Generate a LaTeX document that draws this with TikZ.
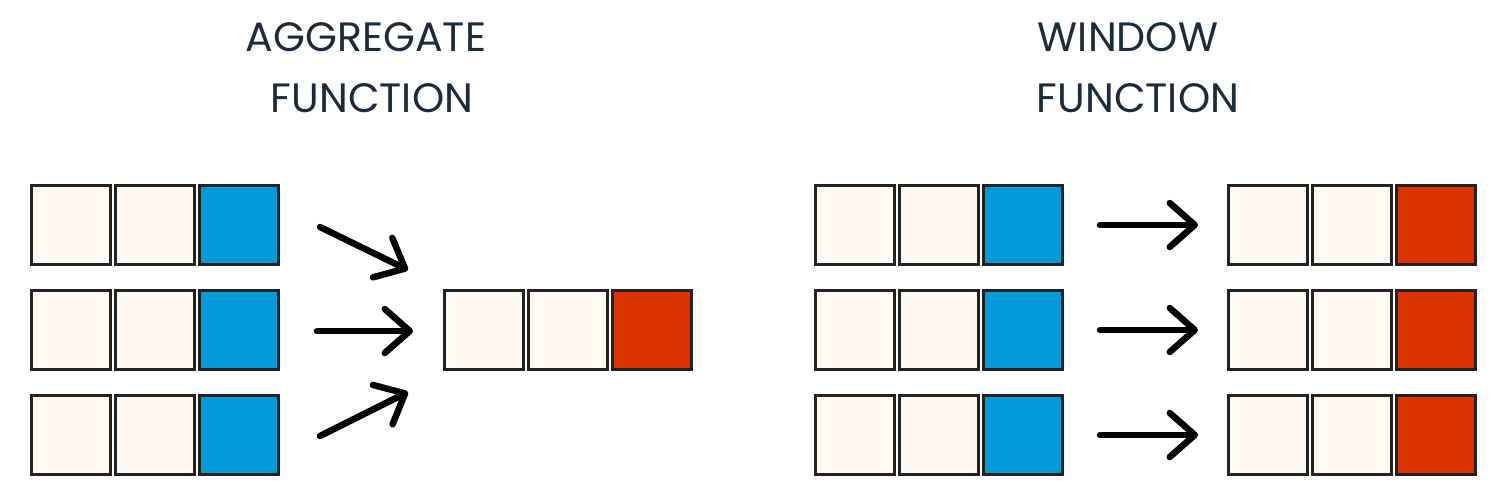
\documentclass[tikz,border=0pt]{standalone}
\usepackage{fontspec}
\setmainfont{Poppins}
\usetikzlibrary{arrows.meta}
\definecolor{cream}{HTML}{FFF9F2}
\definecolor{sqblue}{HTML}{009AD8}
\definecolor{sqred}{HTML}{DD3300}
\definecolor{border}{HTML}{222222}
\definecolor{titlec}{HTML}{1C2B3B}
\tikzset{
  cell/.style={draw=border, line width=2.5pt, minimum width=79pt, minimum height=79pt, inner sep=0pt, fill=cream},
  bluecell/.style={cell, fill=sqblue},
  redcell/.style={cell, fill=sqred},
  flow/.style={line width=6.5pt, line cap=round, -{Straight Barb[length=25pt,width=44pt,line width=6.5pt,round]}},
  title/.style={text=titlec, font=\fontsize{41}{48}\selectfont, inner sep=0pt}
}
\begin{document}
\begin{tikzpicture}[x=1pt,y=-1pt]
\useasboundingbox (0,0) rectangle (1512,492);
% titles
\node[title] (t1) at (366,37) {AGGREGATE};
\node[title] (t2) at (372,98) {FUNCTION};
\node[title] (t3) at (1128,37) {WINDOW};
\node[title] (t4) at (1138,98) {FUNCTION};
% left input grid
\foreach \r/\y in {1/225,2/330,3/435}{
  \node[cell] (a\r1) at (71,\y) {};
  \node[cell] (a\r2) at (155,\y) {};
  \node[bluecell] (a\r3) at (239,\y) {};
}
% aggregate output
\node[cell] (o1) at (484,330) {};
\node[cell] (o2) at (568,330) {};
\node[redcell] (o3) at (652,330) {};
% aggregate arrows
\coordinate (s1) at (320,227); \coordinate (e1) at (408,270);
\coordinate (s2) at (317,331); \coordinate (e2) at (413,331);
\coordinate (s3) at (320,436); \coordinate (e3) at (408,392);
\draw[flow] (s1) -- (e1);
\draw[flow] (s2) -- (e2);
\draw[flow] (s3) -- (e3);
% window input grid
\foreach \r/\y in {1/225,2/330,3/435}{
  \node[cell] (w\r1) at (855,\y) {};
  \node[cell] (w\r2) at (939,\y) {};
  \node[bluecell] (w\r3) at (1023,\y) {};
  \node[cell] (v\r1) at (1268,\y) {};
  \node[cell] (v\r2) at (1352,\y) {};
  \node[redcell] (v\r3) at (1436,\y) {};
  \coordinate (ws\r) at (1100,\y);
  \coordinate (we\r) at (1198,\y);
  \draw[flow] (ws\r) -- (we\r);
}
\end{tikzpicture}
\end{document}
